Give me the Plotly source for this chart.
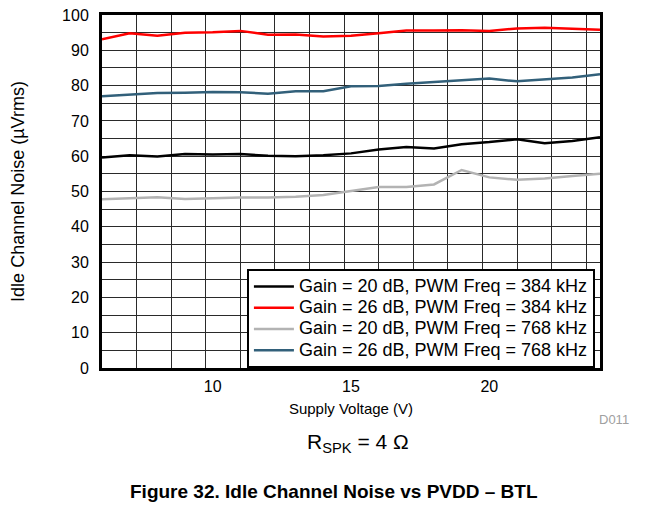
import plotly.graph_objects as go

voltage = [6, 7, 8, 9, 10, 11, 12, 13, 14, 15, 16, 17, 18, 19, 20, 21, 22, 23, 24]
g20_384 = [59.6, 60.3, 59.9, 60.6, 60.5, 60.6, 60.1, 60.0, 60.3, 60.8, 61.9, 62.6, 62.2, 63.4, 64.0, 64.8, 63.7, 64.3, 65.4]
g26_384 = [93.1, 94.8, 94.1, 95.0, 95.1, 95.5, 94.4, 94.5, 93.9, 94.1, 94.8, 95.6, 95.6, 95.7, 95.5, 96.2, 96.4, 96.0, 95.8]
g20_768 = [47.8, 48.1, 48.4, 47.9, 48.2, 48.3, 48.3, 48.5, 49.0, 50.1, 51.3, 51.3, 52.0, 56.1, 54.0, 53.3, 53.7, 54.4, 55.0]
g26_768 = [77.0, 77.5, 77.9, 78.0, 78.2, 78.1, 77.7, 78.4, 78.4, 79.8, 79.9, 80.5, 81.0, 81.3, 82.0, 81.2, 81.8, 82.3, 83.2]

series_names = [
    "Gain = 20 dB, PWM Freq = 384 kHz",
    "Gain = 26 dB, PWM Freq = 384 kHz",
    "Gain = 20 dB, PWM Freq = 768 kHz",
    "Gain = 26 dB, PWM Freq = 768 kHz",
]
series_values = [g20_384, g26_384, g20_768, g26_768]
series_colors = ["#000000", "#ff0000", "#b3b3b3", "#32607a"]

x_ticks = [10, 15, 20]
y_ticks = [0, 10, 20, 30, 40, 50, 60, 70, 80, 90, 100]

FONT = "Liberation Sans, Arial, sans-serif"
GRID = "#2a2a2a"

fig = go.Figure()
for name, vals, col in zip(series_names, series_values, series_colors):
    fig.add_trace(go.Scatter(
        x=voltage, y=vals, mode="lines",
        name='<span style="font-size:18px">' + name + '</span>',
        line=dict(color=col, width=2.5)))

fig.update_layout(
    width=661, height=511,
    margin=dict(l=94, r=69, t=7, b=151, autoexpand=False),
    paper_bgcolor="white", plot_bgcolor="white",
    font=dict(family=FONT, size=16, color="black"),
    showlegend=True,
    legend=dict(x=0.291, y=0.0, xanchor="left", yanchor="bottom",
                bgcolor="white", bordercolor="black", borderwidth=2,
                font=dict(family=FONT, size=14, color="black"),
                tracegroupgap=0, itemwidth=40),
    xaxis=dict(range=[6, 24], tickvals=x_ticks, ticktext=[str(v) for v in x_ticks],
               automargin=False, showgrid=False, zeroline=False,
               showline=True, linecolor="black", linewidth=3, mirror=True,
               ticks="", ticklabelstandoff=2, tickfont=dict(size=16),
               ticklabeloverflow="allow",
               minor=dict(tick0=6, dtick=1.25, showgrid=True, gridcolor=GRID, gridwidth=1, ticks=""),
               title=dict(text="Supply Voltage (V)", standoff=10, font=dict(size=15))),
    yaxis=dict(range=[0, 100], tickvals=y_ticks, automargin=False,
               showgrid=True, gridcolor=GRID, gridwidth=1,
               zeroline=False, showline=True, linecolor="black", linewidth=3, mirror=True,
               ticks="", ticklabelstandoff=7, tickfont=dict(size=16),
               ticklabeloverflow="allow",
               minor=dict(dtick=5, showgrid=True, gridcolor=GRID, gridwidth=1, ticks=""),
               title=dict(text="Idle Channel Noise (µVrms)", standoff=33, font=dict(size=18))),
)

fig.add_annotation(text="R<sub>SPK</sub> = 4 Ω", xref="paper", yref="paper",
                   x=0.515, y=-0.2136, xanchor="center", yanchor="middle", showarrow=False,
                   font=dict(family=FONT, size=21, color="black"))
fig.add_annotation(text="D011", xref="paper", yref="paper",
                   x=0.994, y=-0.1445, xanchor="left", yanchor="middle", showarrow=False,
                   font=dict(family=FONT, size=13, color="#a0a0a0"))
fig.add_annotation(text="<b>Figure 32. Idle Channel Noise vs PVDD – BTL</b>", xref="paper", yref="paper",
                   x=0.466, y=-0.349, xanchor="center", yanchor="middle", showarrow=False,
                   font=dict(family=FONT, size=19, color="black"))

fig.write_html("out.html")
